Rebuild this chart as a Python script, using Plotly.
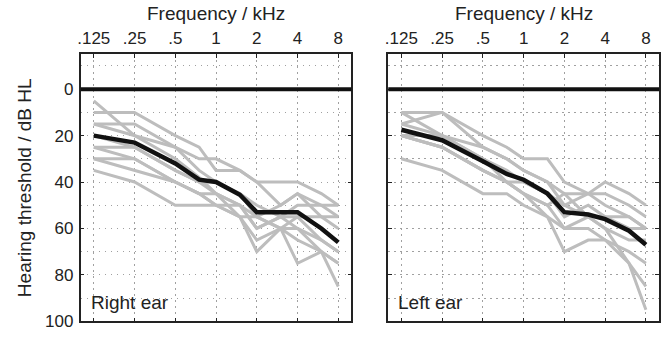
import plotly.graph_objects as go

# Audiometric test frequencies (kHz)
freqs = [0.125, 0.25, 0.5, 0.75, 1, 1.5, 2, 3, 4, 6, 8]
tick_freqs = [0.125, 0.25, 0.5, 1, 2, 4, 8]
tick_labels = [".125", ".25", ".5", "1", "2", "4", "8"]
db_ticks = [0, 20, 40, 60, 80, 100]

# Individual thresholds, right ear (dB HL)
right_ind = [
    [5, 20, 30, 38, 45, 50, 55, 60, 60, 70, 75],
    [10, 10, 20, 25, 35, 35, 40, 40, 40, 45, 50],
    [15, 20, 25, 30, 30, 35, 40, 50, 45, 50, 55],
    [15, 15, 25, 35, 40, 45, 55, 60, 55, 65, 70],
    [20, 25, 35, 40, 45, 50, 60, 55, 60, 65, 70],
    [25, 25, 35, 40, 40, 45, 50, 55, 55, 55, 55],
    [25, 30, 40, 45, 45, 55, 70, 60, 65, 70, 85],
    [30, 30, 40, 45, 50, 55, 65, 60, 75, 70, 75],
    [30, 35, 40, 45, 50, 55, 55, 50, 45, 55, 60],
    [35, 40, 50, 50, 50, 50, 60, 55, 50, 50, 50],
]
right_mean = [20, 23, 32, 39, 40, 45.5, 53, 53, 53, 60, 66]

# Individual thresholds, left ear (dB HL)
left_ind = [
    [10, 10, 20, 25, 30, 30, 40, 45, 40, 45, 50],
    [10, 20, 25, 30, 35, 40, 45, 45, 45, 50, 55],
    [15, 10, 25, 30, 35, 40, 50, 45, 50, 55, 60],
    [20, 20, 30, 35, 40, 45, 55, 50, 55, 60, 60],
    [20, 25, 35, 40, 45, 50, 60, 55, 60, 65, 65],
    [15, 20, 30, 40, 45, 55, 60, 60, 65, 70, 75],
    [30, 35, 45, 45, 50, 55, 70, 65, 65, 75, 85],
    [20, 25, 35, 40, 40, 45, 50, 55, 60, 75, 95],
    [20, 25, 35, 40, 45, 50, 45, 55, 55, 55, 60],
]
left_mean = [17.5, 22, 31, 36.5, 39, 45, 53, 54, 56, 61, 67]

panels = [("Right ear", right_ind, right_mean), ("Left ear", left_ind, left_mean)]

W, H = 663, 341
x_domains = [[78 / W, 350 / W], [387 / W, 659 / W]]
y_domain = [1 - 331 / H, 1 - 56 / H]

GREY = "#bdbdbd"
INK = "#222222"
GRID = "#a0a0a0"
DOTS = "1.5px,4.5px"
FONT = "Liberation Sans, Arial, Helvetica, sans-serif"

fig = go.Figure()

for i, (name, ind, mean) in enumerate(panels):
    xa = "x" if i == 0 else f"x{i + 1}"
    ya = "y" if i == 0 else f"y{i + 1}"
    for row in ind:
        fig.add_trace(go.Scatter(x=freqs, y=row, mode="lines", xaxis=xa, yaxis=ya,
                                 line=dict(color=GREY, width=3), showlegend=False,
                                 hoverinfo="skip"))
    fig.add_trace(go.Scatter(x=freqs, y=mean, mode="lines", xaxis=xa, yaxis=ya,
                             line=dict(color="#111111", width=4.5), showlegend=False))

    # reference line at 0 dB HL
    fig.add_shape(type="line", xref=f"{xa} domain", yref=ya, x0=0, x1=1, y0=0, y1=0,
                  line=dict(color="#111111", width=4), layer="above")

    fig.add_annotation(text=name, xref=f"{xa} domain", yref=f"{ya} domain",
                       x=0.03, y=0.025, xanchor="left", yanchor="bottom",
                       showarrow=False, font=dict(size=19, color=INK, family=FONT))
    fig.add_annotation(text="Frequency / kHz", xref=f"{xa} domain", yref="paper",
                       x=0.5, y=1 - 14 / H, xanchor="center", yanchor="middle",
                       showarrow=False, font=dict(size=19, color=INK, family=FONT))

    xaxis = dict(type="log", range=[-1, 1], domain=x_domains[i], side="top",
                 tickvals=tick_freqs, ticktext=tick_labels,
                 ticks="inside", ticklen=4, tickcolor=INK, mirror="ticks",
                 showline=True, linecolor=INK, linewidth=1.5,
                 showgrid=True, gridcolor=GRID, griddash=DOTS, gridwidth=1.2,
                 zeroline=False, anchor=ya, ticklabelstandoff=2,
                 tickfont=dict(size=17, color=INK, family=FONT))
    yaxis = dict(range=[100, -15], domain=y_domain, tickvals=db_ticks,
                 showticklabels=(i == 0),
                 ticks="inside", ticklen=4, tickcolor=INK, mirror="ticks",
                 showline=True, linecolor=INK, linewidth=1.5,
                 showgrid=True, gridcolor=GRID, griddash=DOTS, gridwidth=1.2,
                 minor=dict(dtick=10, tick0=0, showgrid=True, gridcolor=GRID,
                            griddash=DOTS, gridwidth=1.2, ticks=""),
                 zeroline=False, anchor=xa, ticklabelstandoff=2,
                 tickfont=dict(size=17, color=INK, family=FONT))
    if i == 0:
        yaxis["title"] = dict(text="Hearing threshold / dB HL", standoff=8,
                              font=dict(size=19, color=INK, family=FONT))
    key = "" if i == 0 else str(i + 1)
    fig.update_layout(**{f"xaxis{key}": xaxis, f"yaxis{key}": yaxis})

fig.update_layout(width=W, height=H, margin=dict(l=0, r=0, t=0, b=0),
                  paper_bgcolor="white", plot_bgcolor="white",
                  font=dict(family=FONT, color=INK), showlegend=False)

fig.write_html("out.html")
